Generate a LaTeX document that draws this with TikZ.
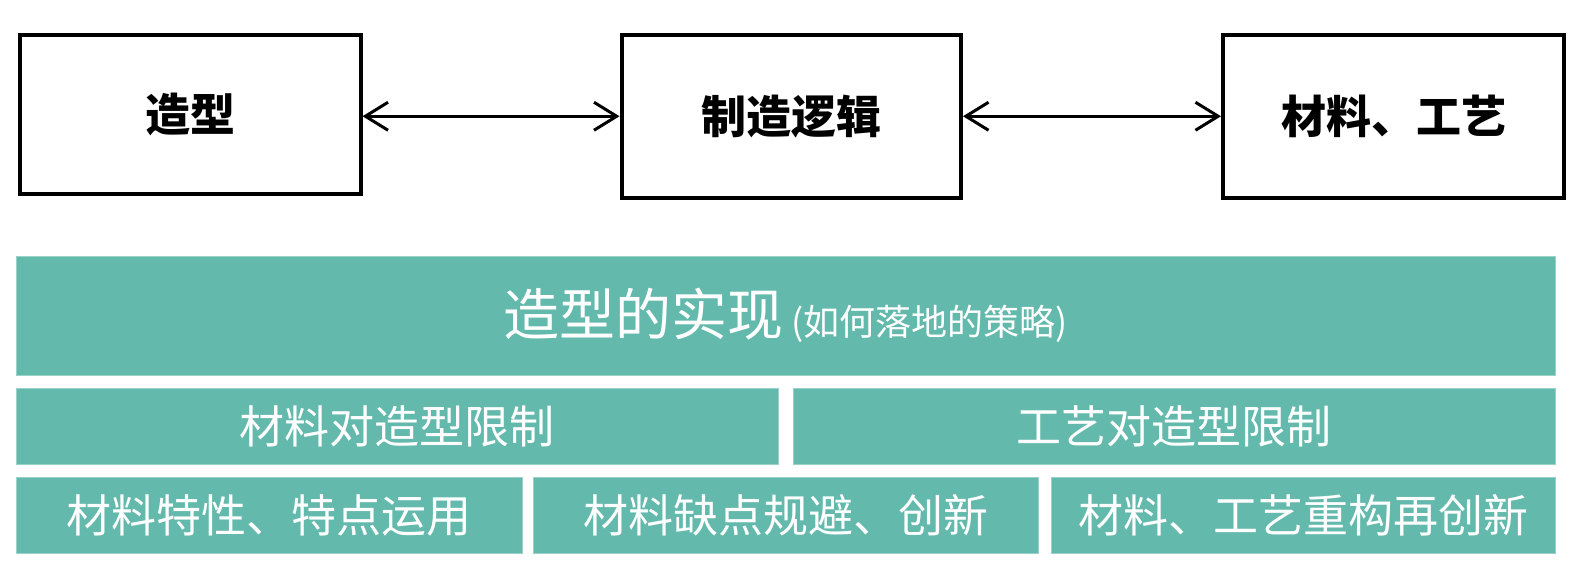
\documentclass[tikz,border=0pt]{standalone}
\usepackage{fontspec}
\setmainfont{Noto Sans CJK SC}
\usetikzlibrary{arrows.meta}
\definecolor{bandteal}{RGB}{99,185,171}
\tikzset{every picture/.style={line width=0.75pt}}
\tikzset{
  topbox/.style={draw=black, line width=3pt, inner sep=0pt, font=\bfseries\fontsize{33.75}{40}\selectfont},
  band/.style={fill=bandteal, draw=bandteal!65!white, line width=0.75pt, text=white, inner sep=0pt, font=\fontsize{33.75}{40}\selectfont},
  link/.style={line width=2.25pt, {Straight Barb[length=17pt,width=21pt,line width=2.25pt]}-{Straight Barb[length=17pt,width=21pt,line width=2.25pt]}}
}

\begin{document}
\begin{tikzpicture}[x=0.75pt,y=0.75pt,yscale=-1,xscale=1]
\useasboundingbox (0,0) rectangle (1583,565);

%Shape: top row boxes
\node [topbox, minimum width=255.75pt, minimum height=118.9pt] (shape) at (190,114.25) {造型};
\node [topbox, minimum width=254.6pt, minimum height=121.9pt] (logic) at (791.25,116.25) {制造逻辑};
\node [topbox, minimum width=255.75pt, minimum height=122.25pt] (craft) at (1393.5,116.5) {材料、工艺};

%Straight Lines: double arrows
\draw [link] (shape.east |- logic.west) -- (logic.west) ;
\draw [link] (logic.east) -- (craft.west |- logic.east) ;

%Shape: main band
\node [band, minimum width=1154.25pt, minimum height=89.25pt] (realize) at (785.5,315.5) {{\fontsize{42}{48}\selectfont 造型的实现}\,{\fontsize{27}{32}\selectfont (如何落地的策略)}};

%Shape: second row
\node [band, minimum width=571.5pt, minimum height=57pt] (matlimit) at (397,426) {材料对造型限制};
\node [band, minimum width=571.5pt, minimum height=57pt] (craftlimit) at (1174,426) {工艺对造型限制};

%Shape: third row
\node [band, minimum width=379.5pt, minimum height=57pt] (use) at (269,515) {材料特性、特点运用};
\node [band, minimum width=378.75pt, minimum height=57pt] (avoid) at (785.5,515) {材料缺点规避、创新};
\node [band, minimum width=378pt, minimum height=57pt] (rebuild) at (1303,515) {材料、工艺重构再创新};

\end{tikzpicture}
\end{document}
